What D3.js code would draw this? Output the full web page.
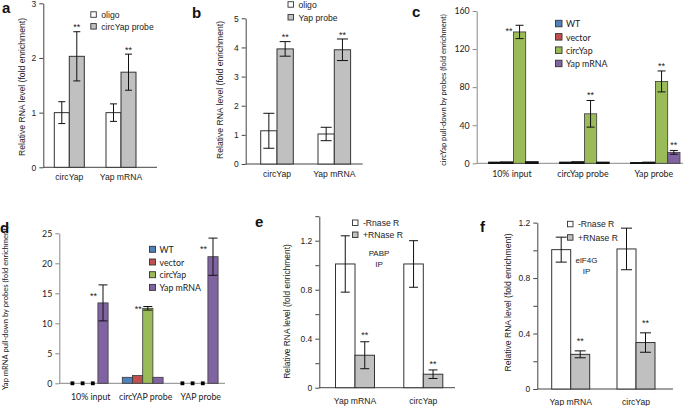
<!DOCTYPE html>
<html><head><meta charset="utf-8">
<script src="https://cdn.jsdelivr.net/npm/d3@7"></script>
<style>
html,body{margin:0;padding:0;background:#fff;}
svg{display:block;}
</style></head>
<body>
<svg id="chart" width="685" height="406"></svg>
<script>
// ---------------- DATA ----------------
// Panel a
const aCategories = ["circYap", "Yap mRNA"];
const aSeriesNames = ["oligo", "circYap probe"];
const aOligo = [1.0, 1.0];
const aOligoErr = [0.2, 0.16];
const aProbe = [2.03, 1.74];
const aProbeErr = [0.45, 0.33];
const aProbeSig = ["**", "**"];
const aTicks = [0, 1, 2, 3];

// Panel b
const bCategories = ["circYap", "Yap mRNA"];
const bSeriesNames = ["oligo", "Yap probe"];
const bOligo = [1.14, 1.03];
const bOligoErr = [0.6, 0.23];
const bProbe = [3.95, 3.92];
const bProbeErr = [0.25, 0.37];
const bProbeSig = ["**", "**"];
const bTicks = [0, 1, 2, 3, 4, 5];

// Panel c
const cCategories = ["10% input", "circYap probe", "Yap probe"];
const cSeriesNames = ["WT", "vector", "circYap", "Yap mRNA"];
const cWT = [1.0, 1.0, 0.6];
const cVector = [1.3, 1.5, 1.0];
const cCircYap = [138, 52, 86];
const cCircYapErr = [7, 14, 11];
const cCircYapSig = ["**", "**", "**"];
const cYapMRNA = [1.5, 1.0, 11.5];
const cYapMRNAErr = [0, 0, 2];
const cYapMRNASig = ["", "", "**"];
const cTicks = [0, 40, 80, 120, 160];

// Panel d
const dCategories = ["10% input", "circYAP probe", "YAP probe"];
const dSeriesNames = ["WT", "vector", "circYap", "Yap mRNA"];
const dWT = [0, 1.0, 0];
const dVector = [0, 1.3, 0];
const dCircYap = [0, 12.5, 0];
const dCircYapErr = [0, 0.3, 0];
const dCircYapSig = ["", "**", ""];
const dYapMRNA = [13.4, 1.0, 21.1];
const dYapMRNAErr = [3.0, 0, 3.1];
const dYapMRNASig = ["**", "", "**"];
const dTicks = [0, 5, 10, 15, 20, 25];

// Panel e
const eCategories = ["Yap mRNA", "circYap"];
const eSeriesNames = ["-Rnase R", "+RNase R"];
const eMinus = [1.01, 1.01];
const eMinusErr = [0.23, 0.19];
const ePlus = [0.265, 0.11];
const ePlusErr = [0.11, 0.035];
const ePlusSig = ["**", "**"];
const eTicks = [0, 0.2, 0.4, 0.6, 0.8, 1.0, 1.2, 1.4];
const eTickLabels = [0, 0.4, 0.8, 1.2];
const eNote = ["PABP", "IP"];

// Panel f
const fCategories = ["Yap mRNA", "circYap"];
const fSeriesNames = ["-Rnase R", "+RNase R"];
const fMinus = [1.005, 1.01];
const fMinusErr = [0.09, 0.15];
const fPlus = [0.25, 0.335];
const fPlusErr = [0.025, 0.07];
const fPlusSig = ["**", "**"];
const fTicks = [0, 0.2, 0.4, 0.6, 0.8, 1.0, 1.2];
const fTickLabels = [0, 0.4, 0.8, 1.2];
const fNote = ["elF4G", "IP"];

const yLabelRNA = "Relative RNA level (fold enrichment)";
const yLabelRNA2 = "Relative RNA level  (fold enrichment)";
const yLabelC = "circYap pull-down by probes (fold enrichment)";
const yLabelD = "Yap mRNA  pull-down by probes (fold enrichment)";

// ---------------- DRAWING ----------------
const svg = d3.select("#chart");
const ARIAL = "'Liberation Sans', Arial, sans-serif";
const CALI = "Lato, 'Open Sans', sans-serif";
const WHITE = "#ffffff", GRAY = "#c0c0c0";
const C_WT = "#4F81BD", C_VEC = "#C0504D", C_CIRC = "#9BBB59", C_YAP = "#8064A2";

function drawPanel(p) {
  const g = svg.append("g");
  const y = d3.scaleLinear().domain(p.yDomain).range([p.y0, p.y1]);
  const xc = d3.scalePoint().domain(p.cats).range([p.c0, p.c1]);
  const xs = d3.scaleBand().domain(p.series.map(s => s.name)).range([-p.gw / 2, p.gw / 2]);

  // y axis
  const axis = d3.axisLeft(y).tickValues(p.ticks).tickSize(p.tickLen).tickSizeOuter(0)
    .tickPadding(p.tickPad)
    .tickFormat(v => (p.tickLabels ? (p.tickLabels.some(t => Math.abs(t - v) < 1e-9) ? d3.format(p.fmt || "")(v) : "") : d3.format(p.fmt || "")(v)));
  const ag = g.append("g").attr("transform", `translate(${p.ax},0)`).call(axis);
  ag.select(".domain").attr("stroke", p.axisColor).attr("stroke-width", 1);
  ag.selectAll(".tick line").attr("stroke", p.axisColor);
  ag.selectAll(".tick text").attr("font-family", p.font).attr("font-size", p.tickFont).attr("fill", "#222");

  // x axis line
  g.append("line").attr("x1", p.ax).attr("x2", p.xEnd).attr("y1", y(0)).attr("y2", y(0))
    .attr("stroke", p.axisColor).attr("stroke-width", 1);

  // bars
  p.series.forEach(s => {
    p.cats.forEach((c, i) => {
      const v = s.values[i];
      const bx = xc(c) + xs(s.name);
      const bw = xs.bandwidth();
      if (v === 0 && p.zeroMarker) {
        g.append("rect").attr("x", bx + bw / 2 - 1.9).attr("y", y(0) - 1.9)
          .attr("width", 3.8).attr("height", 3.8).attr("fill", "#000");
        return;
      }
      const small = p.smallStroke && (y(0) - y(v)) < 3;
      g.append("rect").attr("x", bx).attr("y", y(v)).attr("width", bw).attr("height", y(0) - y(v))
        .attr("fill", s.color).attr("stroke", small ? p.smallStroke : p.barStroke)
        .attr("stroke-width", small ? 1.4 : p.barStrokeW);
      const e = s.errs ? s.errs[i] : 0;
      const cx = bx + bw / 2;
      if (e > 0) {
        const eg = g.append("g").attr("stroke", "#111").attr("stroke-width", 1);
        eg.append("line").attr("x1", cx).attr("x2", cx).attr("y1", y(v + e)).attr("y2", y(v - e));
        eg.append("line").attr("x1", cx - p.cap / 2).attr("x2", cx + p.cap / 2).attr("y1", y(v + e)).attr("y2", y(v + e));
        eg.append("line").attr("x1", cx - p.cap / 2).attr("x2", cx + p.cap / 2).attr("y1", y(v - e)).attr("y2", y(v - e));
      }
      const sig = s.sig ? s.sig[i] : "";
      if (sig) {
        const left = p.sigLeft ? p.sigLeft(v, e) : false;
        const t = g.append("text").text(sig).attr("font-family", ARIAL).attr("font-size", 9).attr("fill", "#222");
        if (left) {
          t.attr("x", bx - 1).attr("y", y(v + e / 2) + 5).attr("text-anchor", "end");
        } else {
          t.attr("x", cx).attr("y", y(v + e) - p.sigGap + 3.6).attr("text-anchor", "middle");
        }
      }
    });
  });

  // category labels
  p.cats.forEach(c => {
    g.append("text").text(c).attr("x", xc(c) + (p.catShift || 0)).attr("y", p.catY)
      .attr("text-anchor", "middle").attr("font-family", p.font).attr("font-size", p.catFont).attr("fill", "#222");
  });

  // y label
  g.append("text").text(p.yLabel)
    .attr("transform", `translate(${p.ylx},${p.yly}) rotate(-90)`)
    .attr("text-anchor", "middle").attr("dy", "0.35em")
    .attr("font-family", p.font).attr("font-size", p.yLabelFont).attr("fill", "#222");

  // panel letter
  g.append("text").text(p.letter).attr("x", p.lx).attr("y", p.ly)
    .attr("font-family", ARIAL).attr("font-weight", "bold").attr("font-size", 15).attr("fill", "#111");

  // legend
  p.series.forEach((s, i) => {
    const ly = p.legY + i * p.legStep;
    g.append("rect").attr("x", p.legX).attr("y", ly - p.legBox).attr("width", p.legBox).attr("height", p.legBox)
      .attr("fill", s.color).attr("stroke", p.legStroke).attr("stroke-width", 0.9);
    g.append("text").text(s.name).attr("x", p.legX + p.legBox + p.legGap).attr("y", ly + 0.5)
      .attr("font-family", p.font).attr("font-size", p.legFont).attr("fill", "#222");
  });

  // note
  if (p.note) {
    p.note.forEach((t, i) => {
      g.append("text").text(t).attr("x", p.noteX).attr("y", p.noteY + i * p.noteStep)
        .attr("text-anchor", "middle").attr("font-family", ARIAL).attr("font-size", 8).attr("fill", "#222");
    });
  }
}

const common = { font: ARIAL, axisColor: "#444", tickLen: 4, tickPad: 3, tickFont: 8.5, catFont: 8.6,
  yLabelFont: 8.6, barStroke: "#333", barStrokeW: 1, legStroke: "#333", legBox: 5.5, legGap: 5, legFont: 8.6 };

// Panel a
drawPanel(Object.assign({}, common, {
  letter: "a", lx: 2, ly: 13.3,
  cats: aCategories, yDomain: [0, 3], y0: 167.3, y1: 3.3, ticks: aTicks,
  ax: 43.3, xEnd: 157, c0: 69.3, c1: 121, gw: 30, cap: 7, sigGap: 5,
  series: [
    { name: aSeriesNames[0], values: aOligo, errs: aOligoErr, color: WHITE },
    { name: aSeriesNames[1], values: aProbe, errs: aProbeErr, sig: aProbeSig, color: GRAY }
  ],
  catY: 179.5, yLabel: yLabelRNA, ylx: 22, yly: 87,
  legX: 90.8, legY: 17.3, legStep: 11.8
}));

// Panel b
drawPanel(Object.assign({}, common, {
  letter: "b", lx: 192, ly: 18.3,
  cats: bCategories, yDomain: [0, 5], y0: 164, y1: 18.3, ticks: bTicks,
  ax: 245.7, xEnd: 362.7, c0: 277, c1: 334.3, gw: 32.6, cap: 11, sigGap: 5,
  series: [
    { name: bSeriesNames[0], values: bOligo, errs: bOligoErr, color: WHITE },
    { name: bSeriesNames[1], values: bProbe, errs: bProbeErr, sig: bProbeSig, color: GRAY }
  ],
  catY: 177, yLabel: yLabelRNA, ylx: 220, yly: 90,
  legX: 288, legY: 7.2, legStep: 12.8
}));

// Panel c
drawPanel(Object.assign({}, common, {
  font: CALI, axisColor: "#888", tickFont: 8.8, catFont: 8.8, yLabelFont: 7.6, legFont: 8.8,
  barStroke: "#3a3a3a", barStrokeW: 0.8, smallStroke: "#111", legStroke: "#333", legBox: 6.5, legGap: 4,
  letter: "c", lx: 412, ly: 16.7,
  cats: cCategories, yDomain: [0, 160], y0: 163.3, y1: 11, ticks: cTicks,
  ax: 476.7, xEnd: 683, c0: 513.4, c1: 655.4, gw: 49.2, cap: 8, sigGap: 6,
  sigLeft: (v, e) => v + e > 120,
  series: [
    { name: cSeriesNames[0], values: cWT, color: C_WT },
    { name: cSeriesNames[1], values: cVector, color: C_VEC },
    { name: cSeriesNames[2], values: cCircYap, errs: cCircYapErr, sig: cCircYapSig, color: C_CIRC },
    { name: cSeriesNames[3], values: cYapMRNA, errs: cYapMRNAErr, sig: cYapMRNASig, color: C_YAP }
  ],
  catY: 177, catShift: -1.5, yLabel: yLabelC, ylx: 443, yly: 90,
  legX: 555.5, legY: 26.8, legStep: 13.3
}));

// Panel d
drawPanel(Object.assign({}, common, {
  font: CALI, axisColor: "#888", tickFont: 8.8, catFont: 8.8, yLabelFont: 7.6, legFont: 8.8,
  barStroke: "#3a3a3a", barStrokeW: 0.8, legStroke: "#333", legBox: 6, legGap: 4, zeroMarker: true,
  letter: "d", lx: 0, ly: 233.3,
  cats: dCategories, yDomain: [0, 25], y0: 383.3, y1: 233.3, ticks: dTicks,
  ax: 59.3, xEnd: 225, c0: 87.7, c1: 197.7, gw: 40.8, cap: 9, sigGap: 6,
  sigLeft: () => true,
  series: [
    { name: dSeriesNames[0], values: dWT, color: C_WT },
    { name: dSeriesNames[1], values: dVector, color: C_VEC },
    { name: dSeriesNames[2], values: dCircYap, errs: dCircYapErr, sig: dCircYapSig, color: C_CIRC },
    { name: dSeriesNames[3], values: dYapMRNA, errs: dYapMRNAErr, sig: dYapMRNASig, color: C_YAP }
  ],
  catY: 399.5, catShift: 3, yLabel: yLabelD, ylx: 5.5, yly: 308,
  legX: 149.5, legY: 252.3, legStep: 12.7
}));

// Panel e
drawPanel(Object.assign({}, common, {
  letter: "e", lx: 255, ly: 227.3,
  cats: eCategories, yDomain: [0, 1.4], y0: 387.7, y1: 216.2, ticks: eTicks, tickLabels: eTickLabels, fmt: "",
  ax: 319.3, xEnd: 455, c0: 355, c1: 423.3, gw: 39, cap: 9, sigGap: 7,
  series: [
    { name: eSeriesNames[0], values: eMinus, errs: eMinusErr, color: WHITE },
    { name: eSeriesNames[1], values: ePlus, errs: ePlusErr, sig: ePlusSig, color: GRAY }
  ],
  catY: 403.5, yLabel: yLabelRNA2, ylx: 287.5, yly: 311.5, yLabelFont: 8.4,
  legX: 352.5, legY: 225.5, legStep: 12,
  note: eNote, noteX: 379, noteY: 256, noteStep: 10.7
}));

// Panel f
drawPanel(Object.assign({}, common, {
  letter: "f", lx: 480, ly: 231.7,
  cats: fCategories, yDomain: [0, 1.2], y0: 389, y1: 222.6, ticks: fTicks, tickLabels: fTickLabels, fmt: "",
  ax: 537.3, xEnd: 673, c0: 570.7, c1: 636, gw: 38, cap: 11, sigGap: 10,
  series: [
    { name: fSeriesNames[0], values: fMinus, errs: fMinusErr, color: WHITE },
    { name: fSeriesNames[1], values: fPlus, errs: fPlusErr, sig: fPlusSig, color: GRAY }
  ],
  catY: 405, yLabel: yLabelRNA2, ylx: 508, yly: 302.5, yLabelFont: 8.6,
  legX: 567.5, legY: 226.8, legStep: 13.4,
  note: fNote, noteX: 586.5, noteY: 262.7, noteStep: 11.3
}));
</script>
</body></html>
